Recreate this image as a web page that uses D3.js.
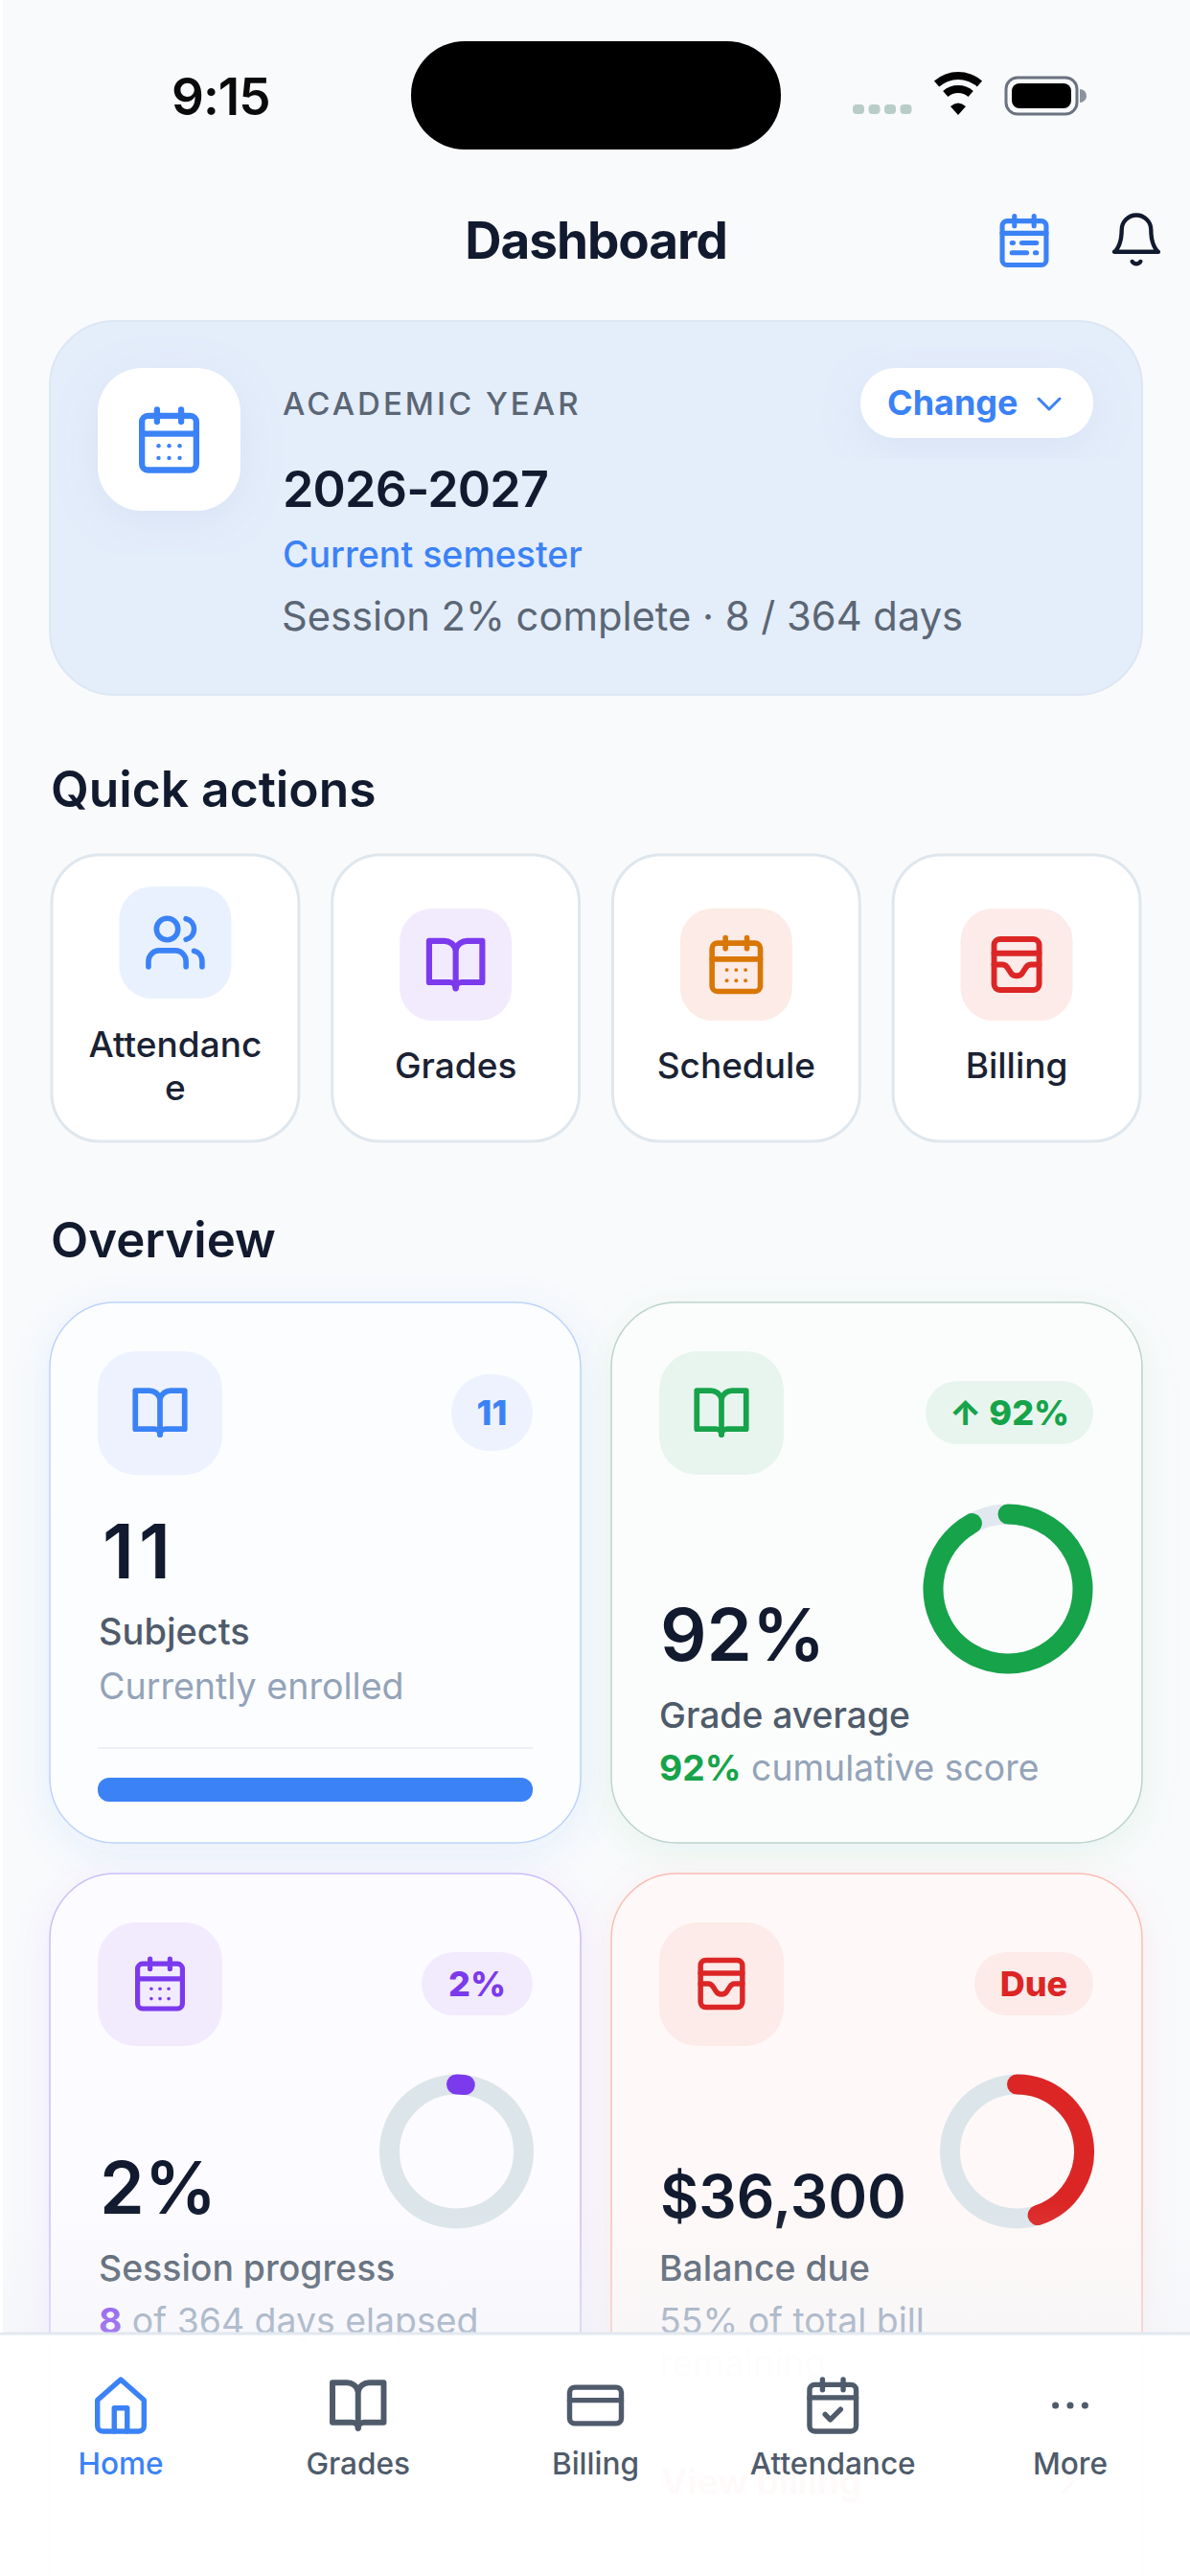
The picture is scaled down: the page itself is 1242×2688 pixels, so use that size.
<!DOCTYPE html>
<html lang="en">
<head>
<meta charset="utf-8">
<title>Dashboard</title>
<script src="https://cdn.jsdelivr.net/npm/d3@7"></script>
<style>
html, body { margin: 0; padding: 0; background: #f9fafc; }
svg { display: block; }
text { font-family: Inter, "Noto Sans", sans-serif; }
</style>
</head>
<body>
<div id="chart"></div>
<script>
// values
var quickLabels = [["Attendanc", "e"], ["Grades"], ["Schedule"], ["Billing"]]
var quickIcons = ["users", "book", "calendar", "wallet"]
var navLabels = ["Home", "Grades", "Billing", "Attendance", "More"]
var navIcons = ["home", "book", "card", "check", "dots"]
var overviewValues = ["11", "92%", "2%", "$36,300"]
var overviewTitles = ["Subjects", "Grade average", "Session progress", "Balance due"]
var overviewBadges = ["11", "↑ 92%", "2%", "Due"]
var overviewIcons = ["book", "book", "calendar", "wallet"]
var ringValues = [92, 2, 45]
var subjectsDone = [100]

var blue = "#3b82f6", green = "#16a34a", purple = "#7c3aed", red = "#dc2626", orange = "#d97706"
var ink = "#111a2e", grey = "#4f5b6b", soft = "#94a3b8"

var svg = d3.select("#chart").append("svg")
    .attr("width", 1242).attr("height", 2688).attr("viewBox", "0 0 1242 2688")
var defs = svg.append("defs")

function shadow(id, color, blur, op) {
    defs.append("filter").attr("id", id)
        .attr("x", "-30%").attr("y", "-30%").attr("width", "160%").attr("height", "160%")
        .append("feDropShadow")
        .attr("dx", 0).attr("dy", 10).attr("stdDeviation", blur)
        .attr("flood-color", color).attr("flood-opacity", op)
}
shadow("sBlue", blue, 20, .09)
shadow("sGreen", green, 20, .07)
shadow("sPurple", purple, 20, .07)
shadow("sRed", red, 20, .06)
shadow("sHero", "#8aa4d6", 22, .14)

var fade = defs.append("linearGradient").attr("id", "fade")
    .attr("x1", 0).attr("y1", 0).attr("x2", 0).attr("y2", 1)
fade.append("stop").attr("offset", 0).attr("stop-color", "#eef1f6").attr("stop-opacity", 0)
fade.append("stop").attr("offset", 1).attr("stop-color", "#eef1f6").attr("stop-opacity", .35)

function txt(g, s, x, y, size, weight, color, anchor) {
    return g.append("text").attr("x", x).attr("y", y)
        .attr("font-size", size).attr("font-weight", weight)
        .attr("fill", color).attr("text-anchor", anchor || "start").text(s)
}

// icons are drawn on a 24 unit grid
var iconPaths = {
    book: ["M3 5h5a4 4 0 0 1 4 3 4 4 0 0 1 4-3h5v14h-7a2 2 0 0 0-2 2 2 2 0 0 0-2-2H3z", "M12 8v13"],
    users: ["M16 21v-2a4 4 0 0 0-4-4H6a4 4 0 0 0-4 4v2", "M13 7a4 4 0 1 1-8 0 4 4 0 0 1 8 0z", "M22 21v-2a4 4 0 0 0-3-3.87", "M16 3.13a4 4 0 0 1 0 7.75"],
    calendar: ["M5 4h14a2 2 0 0 1 2 2v14a2 2 0 0 1-2 2H5a2 2 0 0 1-2-2V6a2 2 0 0 1 2-2z", "M8 2v4", "M16 2v4", "M3 10h18"],
    wallet: ["M6 3h12a2 2 0 0 1 2 2v14a2 2 0 0 1-2 2H6a2 2 0 0 1-2-2V5a2 2 0 0 1 2-2z", "M4 8h16", "M4 12h3c1 0 1.5.5 2 1.5l1 1.5c.5.8 1.3 1 2 1s1.5-.2 2-1l1-1.5c.5-1 1-1.5 2-1.5h3"],
    home: ["M3 10l9-8 9 8v10a2 2 0 0 1-2 2H5a2 2 0 0 1-2-2z", "M9.5 22v-9h5v9"],
    card: ["M4 5h16a2 2 0 0 1 2 2v10a2 2 0 0 1-2 2H4a2 2 0 0 1-2-2V7a2 2 0 0 1 2-2z", "M2 10h20"],
    check: ["M5 4h14a2 2 0 0 1 2 2v14a2 2 0 0 1-2 2H5a2 2 0 0 1-2-2V6a2 2 0 0 1 2-2z", "M8 2v4", "M16 2v4", "M3 9h18", "M9 15.5l2 2 4-4"],
    bell: ["M18 8a6 6 0 0 0-12 0c0 7-3 9-3 9h18s-3-2-3-9", "M13.7 21a2 2 0 0 1-3.4 0"],
    planner: ["M5 4h14a2 2 0 0 1 2 2v14a2 2 0 0 1-2 2H5a2 2 0 0 1-2-2V6a2 2 0 0 1 2-2z", "M8 2v4", "M16 2v4", "M3 9h18", "M11 13h6", "M7 13h.5", "M7 17h6", "M16.5 17h.5"]
}
var calendarDots = [[8.5, 14], [12, 14], [15.5, 14], [8.5, 18], [12, 18], [15.5, 18]]

function icon(g, name, cx, cy, scale, color, width) {
    // the book and wallet glyphs are narrower on the grid, book also sits a unit low
    var s = scale * (name == "book" ? 1.1 : name == "wallet" ? 1.05 : 1)
    var oy = name == "book" ? 1 : 0
    var ig = g.append("g")
        .attr("transform", "translate(" + (cx - 12 * s) + "," + (cy - (12 + oy) * s) + ") scale(" + s + ")")
        .attr("fill", "none").attr("stroke", color).attr("stroke-width", width || 2)
        .attr("stroke-linecap", "round").attr("stroke-linejoin", "round")
    if (name == "dots") {
        ig.selectAll("circle").data([5, 12, 19]).enter().append("circle")
            .attr("cx", function(d) { return d }).attr("cy", 12).attr("r", 1.6)
            .attr("fill", color).attr("stroke", "none")
        return
    }
    iconPaths[name].forEach(function(p) { ig.append("path").attr("d", p) })
    if (name == "calendar") {
        ig.selectAll("circle").data(calendarDots).enter().append("circle")
            .attr("cx", function(d) { return d[0] }).attr("cy", function(d) { return d[1] })
            .attr("r", .7).attr("fill", color).attr("stroke", "none")
    }
}

// status bar
txt(svg, "9:15", 179, 120, 53, 600, "#0a0a0a").attr("letter-spacing", -1)
svg.append("rect").attr("x", 429).attr("y", 43).attr("width", 386).attr("height", 113).attr("rx", 56).attr("fill", "#000")
svg.selectAll(".sig").data([0, 1, 2, 3]).enter().append("rect").attr("class", "sig")
    .attr("x", function(d) { return 890 + d * 16.5 }).attr("y", 109)
    .attr("width", 12).attr("height", 10).attr("rx", 4).attr("fill", "#b9cdc8")
var wifi = svg.append("g").attr("transform", "translate(1000,113)")
;[[32, 8], [18, 8]].forEach(function(a) {
    wifi.append("path")
        .attr("d", d3.arc().innerRadius(a[0] - a[1] / 2 + 2).outerRadius(a[0] + a[1] / 2 + 2).startAngle(-.72).endAngle(.72)())
        .attr("fill", "#000")
})
wifi.append("path").attr("d", "M-8 -2L0 7L8 -2Q0 -9 -8 -2z").attr("fill", "#000")
svg.append("rect").attr("x", 1050).attr("y", 81).attr("width", 74).attr("height", 38).attr("rx", 12)
    .attr("fill", "none").attr("stroke", "#6b7280").attr("stroke-width", 3)
svg.append("rect").attr("x", 1056).attr("y", 87).attr("width", 62).attr("height", 26).attr("rx", 8).attr("fill", "#000")
svg.append("path").attr("d", "M1127 93a7 7 0 0 1 0 14z").attr("fill", "#8c939c")

// header
txt(svg, "Dashboard", 622, 270, 53, 700, ink, "middle").attr("letter-spacing", -1)
icon(svg, "planner", 1069, 251, 2.55, blue, 2)
icon(svg, "bell", 1186, 250, 2.55, ink, 1.7)

// academic year card
var hero = svg.append("g")
hero.append("rect").attr("x", 52).attr("y", 335).attr("width", 1140).attr("height", 390).attr("rx", 68)
    .attr("fill", "#e4edfa").attr("stroke", "#dde6f3").attr("stroke-width", 2)
hero.append("rect").attr("x", 102).attr("y", 384).attr("width", 149).attr("height", 149).attr("rx", 46)
    .attr("fill", "#fff").attr("filter", "url(#sHero)")
icon(hero, "calendar", 176.5, 459, 3.15, blue, 2)
txt(hero, "ACADEMIC YEAR", 295, 433, 33, 500, "#5b6675").attr("letter-spacing", 3)
txt(hero, "2026-2027", 295, 529, 52, 600, ink).attr("letter-spacing", -.8)
txt(hero, "Current semester", 295, 592, 37.5, 500, blue)
txt(hero, "Session 2% complete · 8 / 364 days", 294, 658, 41.7, 400, "#5b6675")
hero.append("rect").attr("x", 898).attr("y", 384).attr("width", 243).attr("height", 73).attr("rx", 36)
    .attr("fill", "#fff").attr("filter", "url(#sHero)")
txt(hero, "Change", 926, 433, 36, 700, blue)
hero.append("path").attr("d", "M1084 416l11 11 11-11").attr("fill", "none").attr("stroke", blue)
    .attr("stroke-width", 3).attr("stroke-linecap", "round").attr("stroke-linejoin", "round")

// quick actions
txt(svg, "Quick actions", 53, 842, 51.5, 600, ink)
var quickX = d3.scaleBand().domain(d3.range(quickLabels.length)).range([54, 1190]).paddingInner(.119)
var quickFill = ["#eaf1fe", "#f2ebfd", "#fcebe6", "#fcebe8"]
var quickColor = [blue, purple, orange, red]
quickLabels.forEach(function(lines, i) {
    var x = quickX(i), w = quickX.bandwidth(), cx = x + w / 2
    var g = svg.append("g")
    g.append("rect").attr("x", x).attr("y", 892).attr("width", w).attr("height", 299).attr("rx", 50)
        .attr("fill", "#fff").attr("stroke", "#dfe7ee").attr("stroke-width", 3)
    var top = lines.length > 1 ? 925 : 948
    g.append("rect").attr("x", cx - 58.5).attr("y", top).attr("width", 117).attr("height", 117).attr("rx", 34)
        .attr("fill", quickFill[i])
    icon(g, quickIcons[i], cx, top + 58.5, 2.8, quickColor[i], 2)
    lines.forEach(function(l, j) {
        txt(g, l, cx, lines.length > 1 ? 1103 + j * 45 : 1125, 37, 500, "#1a2233", "middle")
    })
})

// overview
txt(svg, "Overview", 53, 1312, 51, 600, ink)
var ringScale = d3.scaleLinear().domain([0, 100]).range([0, 2 * Math.PI])
var barScale = d3.scaleLinear().domain([0, 100]).range([0, 454])

var cards = [
    {x: 52, y: 1359, h: 564, stroke: "#bcd3fb", fill: "#fcfdff", tint: "#edf2fe", color: blue, sh: "sBlue", bx: 471, bw: 85, by: 1434, bh: 80},
    {x: 638, y: 1359, h: 564, stroke: "#bcd4cb", fill: "#fbfdfc", tint: "#e8f5ee", color: green, sh: "sGreen", bx: 966, bw: 175, by: 1441, bh: 66},
    {x: 52, y: 1955, h: 800, stroke: "#cdbdfb", fill: "#fcfbff", tint: "#f2ebfd", color: purple, sh: "sPurple", bx: 440, bw: 116, by: 2037, bh: 66},
    {x: 638, y: 1955, h: 800, stroke: "#fbbcb5", fill: "#fef9f8", tint: "#fcebe8", color: red, sh: "sRed", bx: 1017, bw: 124, by: 2037, bh: 66}
]
cards.forEach(function(c, i) {
    var g = svg.append("g")
    g.append("rect").attr("x", c.x).attr("y", c.y).attr("width", 554).attr("height", c.h).attr("rx", 68)
        .attr("fill", c.fill).attr("stroke", c.stroke).attr("stroke-width", 1.5).attr("filter", "url(#" + c.sh + ")")
    g.append("rect").attr("x", c.x + 50).attr("y", c.y + 51).attr("width", 130).attr("height", 129).attr("rx", 40)
        .attr("fill", c.tint)
    icon(g, overviewIcons[i], c.x + 115, c.y + 115, 2.6, c.color, 2)
    g.append("rect").attr("x", c.bx).attr("y", c.by).attr("width", c.bw).attr("height", c.bh).attr("rx", c.bh / 2)
        .attr("fill", c.tint)
    txt(g, overviewBadges[i], c.bx + c.bw / 2, c.by + c.bh / 2 + 13, 36, 800, c.color, "middle")
})

// card contents
var c1 = svg.append("g")
txt(c1, overviewValues[0], 107, 1647, 78, 600, ink).attr("letter-spacing", 5)
txt(c1, overviewTitles[0], 103, 1716, 38, 500, grey)
txt(c1, "Currently enrolled", 103, 1773, 37.6, 400, soft)
c1.append("line").attr("x1", 102).attr("x2", 556).attr("y1", 1824).attr("y2", 1824).attr("stroke", "#edf1f6").attr("stroke-width", 2)
c1.append("rect").attr("x", 102).attr("y", 1855).attr("width", 454).attr("height", 25).attr("rx", 12).attr("fill", "#e2e8f0")
c1.append("rect").attr("x", 102).attr("y", 1855).attr("width", barScale(subjectsDone[0])).attr("height", 25).attr("rx", 12).attr("fill", blue)

function ring(g, cx, cy, r, w, value, color, track) {
    var rg = g.append("g").attr("transform", "translate(" + cx + "," + cy + ")")
    rg.append("circle").attr("r", r).attr("fill", "none").attr("stroke", track).attr("stroke-width", w)
    var arc = d3.arc().innerRadius(r).outerRadius(r).startAngle(0).endAngle(ringScale(value))
    rg.append("path").attr("d", arc()).attr("fill", "none").attr("stroke", color)
        .attr("stroke-width", w).attr("stroke-linecap", "round").attr("stroke-linejoin", "round")
}

var c2 = svg.append("g")
ring(c2, 1052, 1658, 78, 21, ringValues[0], green, "#e2e8f0")
txt(c2, overviewValues[1], 689, 1733, 76, 600, ink)
txt(c2, overviewTitles[1], 688, 1803, 37.3, 500, grey)
var t2 = txt(c2, "", 688, 1858, 37.3, 400, soft)
t2.append("tspan").attr("fill", green).attr("font-weight", 700).text("92%")
t2.append("tspan").text(" cumulative score")

var c3 = svg.append("g")
ring(c3, 476.5, 2245, 70, 21, ringValues[1], purple, "#dce5ea")
txt(c3, overviewValues[2], 104, 2310, 75, 600, ink)
txt(c3, overviewTitles[2], 103, 2380, 37.4, 500, grey)
var t3 = txt(c3, "", 103, 2435, 37.4, 400, soft)
t3.append("tspan").attr("fill", purple).attr("font-weight", 700).text("8")
t3.append("tspan").text(" of 364 days elapsed")

var c4 = svg.append("g")
ring(c4, 1061.5, 2245, 70, 21, ringValues[2], red, "#dce5ea")
txt(c4, overviewValues[3], 689, 2314, 62, 600, ink)
txt(c4, overviewTitles[3], 688, 2380, 37.4, 500, grey)
txt(c4, "55% of total bill", 688, 2435, 37.4, 400, soft)
txt(c4, "remaining", 688, 2479, 37.4, 400, soft)
txt(c4, "View billing", 690, 2603, 37, 700, red)
c4.append("path").attr("d", "M1108 2578l12 12-12 12").attr("fill", "none").attr("stroke", red).attr("stroke-width", 3)

// bottom navigation sits over the scrolled cards
svg.append("rect").attr("x", 0).attr("y", 2300).attr("width", 1242).attr("height", 134).attr("fill", "url(#fade)")
svg.append("rect").attr("x", 0).attr("y", 2434).attr("width", 1242).attr("height", 254).attr("fill", "#fff").attr("fill-opacity", .975)
svg.append("line").attr("x1", 0).attr("x2", 1242).attr("y1", 2435).attr("y2", 2435).attr("stroke", "#e2e8f0").attr("stroke-width", 3)
var navX = d3.scalePoint().domain(navLabels).range([126, 1117])
navLabels.forEach(function(l, i) {
    var color = i == 0 ? blue : grey
    var s = i == 4 ? 2.2 : 2.7
    icon(svg, navIcons[i], navX(l), 2510, s, color, 2)
    txt(svg, l, navX(l), 2582, 31.6, 500, color, "middle")
})

// thin pale strip on the left edge of the screenshot
svg.append("rect").attr("x", 0).attr("y", 0).attr("width", 3).attr("height", 2434).attr("fill", "#fff")
</script>
</body>
</html>
